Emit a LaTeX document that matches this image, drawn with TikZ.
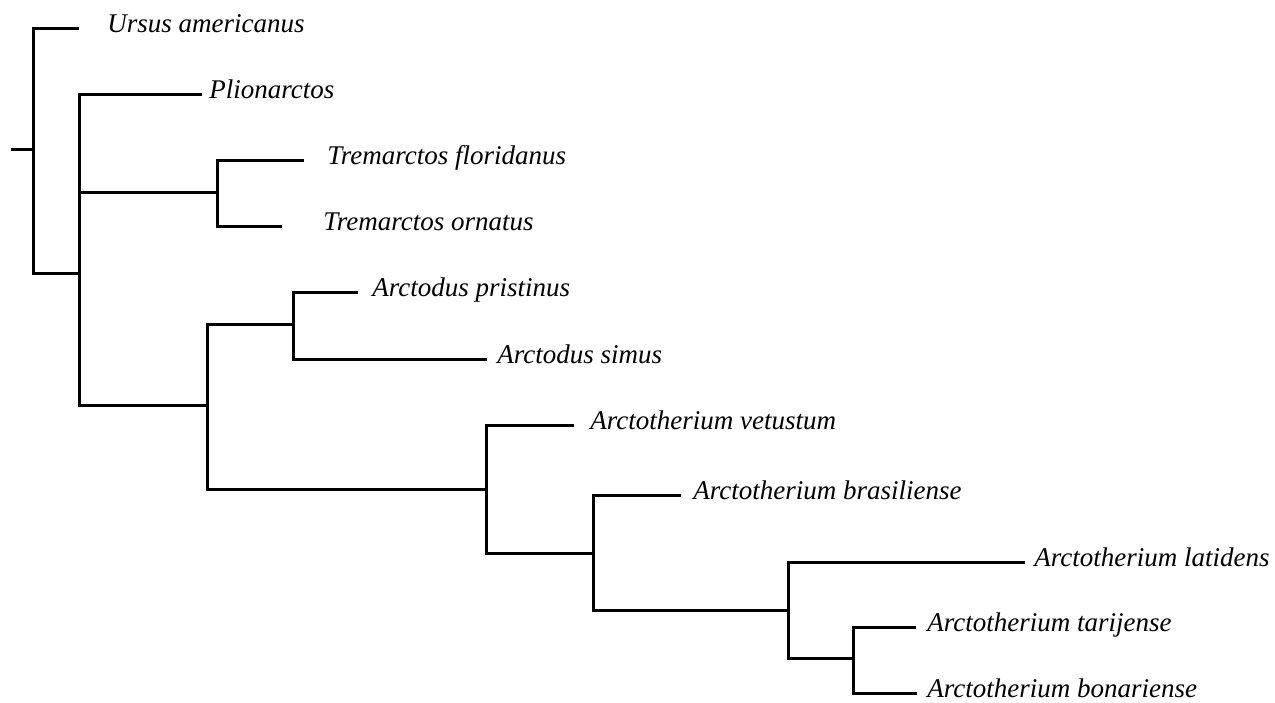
\documentclass[tikz,border=0pt]{standalone}
\usepackage{fontspec}
\setmainfont{Liberation Serif}

\begin{document}
\begin{tikzpicture}[x=0.5pt,y=-0.5pt]
    \tikzstyle{every node}+=[inner sep=0pt]
    \tikzstyle{taxon}=[anchor=mid west, font=\fontsize{13.5}{16}\selectfont\itshape]
    \tikzstyle{branch}=[black, line width=1.5pt]
    \useasboundingbox (0,0) rectangle (1275,702);
    % inner nodes of the tree
    \coordinate (stem) at (11,149);
    \coordinate (n0) at (33,149);
    \coordinate (n1) at (79,273);
    \coordinate (n2) at (217,192);
    \coordinate (n3) at (207,405);
    \coordinate (n4) at (293,324);
    \coordinate (n5) at (486,489);
    \coordinate (n6) at (593,553);
    \coordinate (n7) at (788,610);
    \coordinate (n8) at (853,658);
    % branch tips
    \coordinate (t1) at (79,28);
    \coordinate (t2) at (202,94);
    \coordinate (t3) at (304,160);
    \coordinate (t4) at (282,226);
    \coordinate (t5) at (358,292);
    \coordinate (t6) at (487,359);
    \coordinate (t7) at (574,425);
    \coordinate (t8) at (681,495);
    \coordinate (t9) at (1025,562);
    \coordinate (t10) at (916,627);
    \coordinate (t11) at (917,693);
    % taxa
    \node [taxon] (ursus) at (107,28) {Ursus americanus};
    \node [taxon] (plio) at (209,94) {Plionarctos};
    \node [taxon] (tflor) at (327,160) {Tremarctos floridanus};
    \node [taxon] (torn) at (323,226) {Tremarctos ornatus};
    \node [taxon] (apris) at (372,292) {Arctodus pristinus};
    \node [taxon] (asim) at (497,359) {Arctodus simus};
    \node [taxon] (avet) at (590,425) {Arctotherium vetustum};
    \node [taxon] (abras) at (693,495) {Arctotherium brasiliense};
    \node [taxon] (alat) at (1034,562) {Arctotherium latidens};
    \node [taxon] (atar) at (927,627) {Arctotherium tarijense};
    \node [taxon] (abon) at (927,693) {Arctotherium bonariense};
    % branches
    \draw [branch] (stem) -- (n0);
    \draw [branch] (t1) -| (n0) |- (n1);
    \draw [branch] (t2) -| (n1) |- (n3);
    \draw [branch] (n1) |- (n2);
    \draw [branch] (t3) -| (n2) |- (t4);
    \draw [branch] (n4) -| (n3) |- (n5);
    \draw [branch] (t5) -| (n4) |- (t6);
    \draw [branch] (t7) -| (n5) |- (n6);
    \draw [branch] (t8) -| (n6) |- (n7);
    \draw [branch] (t9) -| (n7) |- (n8);
    \draw [branch] (t10) -| (n8) |- (t11);
\end{tikzpicture}
\end{document}
